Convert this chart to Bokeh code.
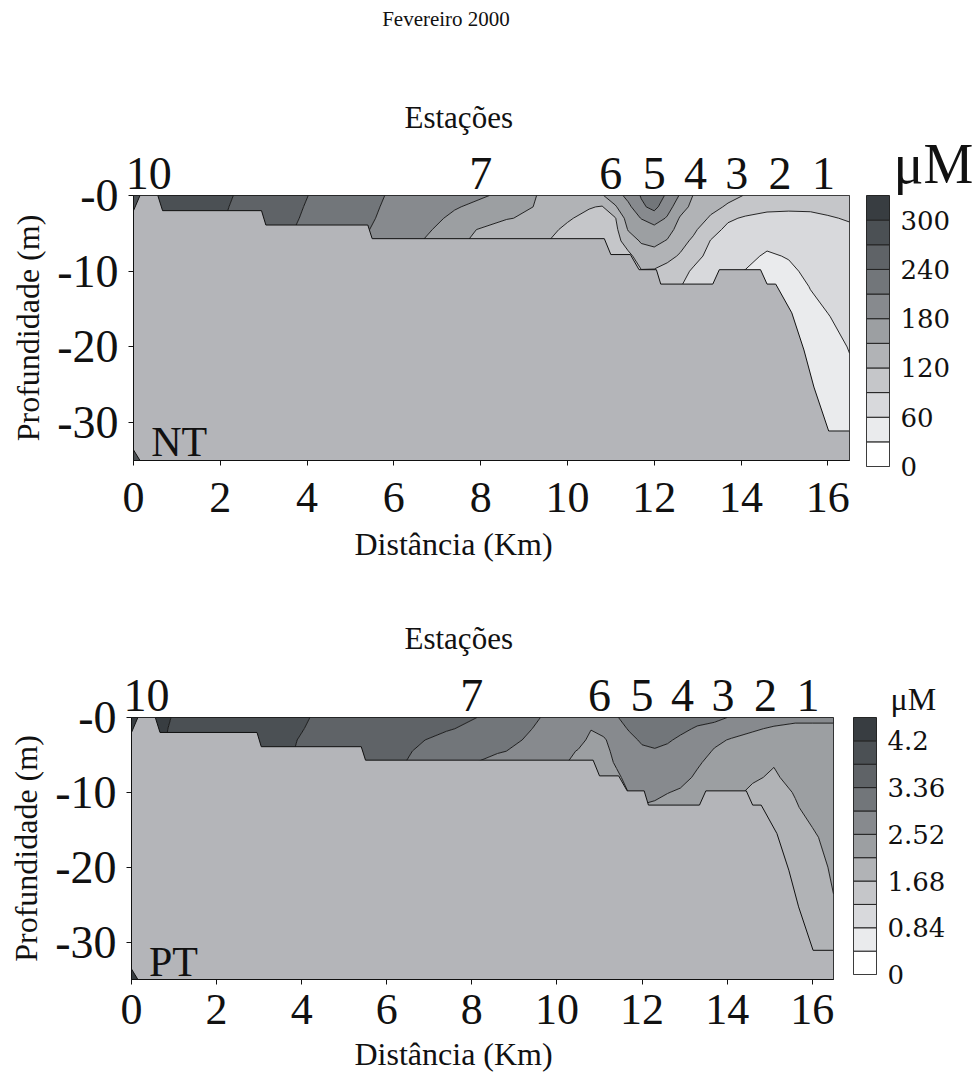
import numpy as np
from bokeh.plotting import figure
from bokeh.layouts import column, row
from bokeh.models import Range1d, LinearAxis, FixedTicker, Label, Title, CustomJSTickFormatter, Div
from bokeh.embed import file_html
from bokeh.resources import INLINE

# ---------------- texts ----------------
page_title = "Fevereiro 2000"
section_title = "Estações"
x_label = "Distância (Km)"
y_label = "Profundidade (m)"
unit_label = "μM"
nt_tag = "NT"
pt_tag = "PT"

# ---------------- axes / stations ----------------
station_km = [0.35, 8.0, 11.0, 12.0, 12.95, 13.9, 14.9, 15.9]
station_names = ["10", "7", "6", "5", "4", "3", "2", "1"]
dist_ticks = [0, 2, 4, 6, 8, 10, 12, 14, 16]
depth_ticks = [0, -10, -20, -30]
depth_tick_labels = ["-0", "-10", "-20", "-30"]

# ---------------- bottom (blanked) profile ----------------
bottom_km = [0.0, 0.15, 0.56, 0.67, 2.95, 3.05, 5.4, 5.5, 10.85, 11.0, 11.45, 11.65, 12.05, 12.15,
             13.35, 13.5, 14.45, 14.6, 14.8, 15.17, 15.45, 15.68, 16.02, 16.5, 16.5, 0.15, 0.0]
bottom_m = [-2.0, 0.0, 0.0, -2.0, -2.0, -3.9, -3.9, -5.7, -5.7, -7.8, -7.8, -9.8, -9.8, -11.7,
            -11.7, -9.8, -9.8, -11.7, -11.7, -15.5, -20.4, -25.3, -31.1, -31.1, -35.0, -35.0, -33.6]

# ---------------- sampling grid ----------------
grid_km = [0.0, 1.3, 3.1, 4.9, 6.2, 7.4, 8.6, 9.4, 10.0, 10.5, 10.8, 11.1, 11.4, 11.7, 12.0, 12.3,
           12.6, 12.9, 13.3, 13.7, 14.1, 14.6, 15.1, 15.6, 16.0, 16.5]
grid_m = [0, -1.5, -3, -4.5, -6, -8, -10, -12, -16, -20, -25, -35]

# NT (µM), one row per depth
nt_0m = [290, 285, 258, 223, 204, 190, 175, 146, 140, 135, 148, 165, 190, 212, 228, 205, 177, 149, 135, 126, 119, 110, 108, 110, 106, 104]
nt_1_5m = [290, 285, 255, 222, 202, 182, 166, 145, 132, 122, 118, 147, 172, 205, 218, 192, 163, 142, 127, 117, 103, 95, 93, 93, 96, 97]
nt_3m = [290, 285, 252, 222, 199, 175, 153, 138, 123, 112, 108, 118, 164, 181, 195, 177, 147, 134, 117, 94, 87, 84, 85, 86, 88, 92]
nt_4_5m = [290, 285, 250, 220, 196, 168, 125, 130, 115, 105, 104, 112, 152, 165, 170, 162, 138, 126, 100, 84, 80, 76, 78, 81, 84, 86]
nt_6m = [290, 285, 250, 218, 194, 157, 129, 124, 110, 100, 100, 108, 135, 153, 158, 148, 130, 115, 89, 78, 74, 68, 72, 77, 80, 83]
nt_8m = [290, 285, 250, 218, 194, 157, 129, 124, 110, 100, 100, 104, 112, 135, 138, 128, 117, 100, 82, 72, 68, 56, 62, 72, 76, 80]
nt_10m = [290, 285, 250, 218, 194, 157, 129, 124, 110, 100, 100, 100, 105, 118, 117, 110, 100, 86, 76, 66, 59, 50, 54, 67, 72, 77]
nt_12m = [290, 285, 250, 218, 194, 157, 129, 124, 110, 100, 100, 100, 105, 110, 105, 100, 91, 80, 72, 63, 55, 46, 48, 61, 68, 74]
nt_16m = [290, 285, 250, 218, 194, 157, 129, 124, 110, 100, 100, 100, 105, 110, 105, 100, 88, 80, 72, 63, 55, 40, 40, 52, 59, 68]
nt_20m = [290, 285, 250, 218, 194, 157, 129, 124, 110, 100, 100, 100, 105, 110, 105, 100, 88, 80, 72, 63, 55, 38, 36, 46, 52, 61]
nt_25m = [290, 285, 250, 218, 194, 157, 129, 124, 110, 100, 100, 100, 105, 110, 105, 100, 88, 80, 72, 63, 55, 36, 35, 42, 47, 55]
nt_35m = [290, 285, 250, 218, 194, 157, 129, 124, 110, 100, 100, 100, 105, 110, 105, 100, 88, 80, 72, 63, 55, 35, 35, 40, 44, 50]

# PT (µM), one row per depth
pt_0m = [4.45, 4.1, 3.95, 3.67, 3.55, 3.45, 3.3, 3.0, 2.83, 2.8, 2.82, 2.88, 2.92, 3.05, 3.15, 3.16, 3.12, 3.06, 3.0, 2.97, 2.93, 2.8, 2.66, 2.6, 2.58, 2.56]
pt_1_5m = [4.45, 4.07, 3.94, 3.64, 3.53, 3.39, 3.21, 2.945, 2.78, 2.72, 2.53, 2.65, 2.85, 2.96, 3.05, 3.08, 3.04, 2.98, 2.92, 2.9, 2.75, 2.56, 2.48, 2.44, 2.46, 2.48]
pt_3m = [4.45, 4.05, 3.93, 3.59, 3.5, 3.26, 3.1, 2.88, 2.72, 2.62, 2.45, 2.47, 2.72, 2.88, 2.97, 3.0, 2.96, 2.91, 2.84, 2.62, 2.48, 2.42, 2.38, 2.38, 2.4, 2.44]
pt_4_5m = [4.45, 4.05, 3.92, 3.57, 3.46, 3.16, 2.99, 2.8, 2.66, 2.5, 2.4, 2.42, 2.62, 2.8, 2.9, 2.92, 2.9, 2.84, 2.72, 2.48, 2.4, 2.34, 2.3, 2.33, 2.36, 2.4]
pt_6m = [4.45, 4.05, 3.9, 3.55, 3.4, 3.2, 2.75, 2.7, 2.6, 2.44, 2.38, 2.4, 2.56, 2.72, 2.82, 2.86, 2.82, 2.76, 2.56, 2.42, 2.34, 2.26, 2.12, 2.27, 2.32, 2.37]
pt_8m = [4.45, 4.05, 3.9, 3.55, 3.4, 3.2, 2.75, 2.7, 2.6, 2.44, 2.36, 2.38, 2.46, 2.62, 2.72, 2.76, 2.7, 2.62, 2.47, 2.36, 2.26, 2.14, 2.06, 2.2, 2.28, 2.34]
pt_10m = [4.45, 4.05, 3.9, 3.55, 3.4, 3.2, 2.75, 2.7, 2.6, 2.44, 2.36, 2.38, 2.4, 2.53, 2.6, 2.62, 2.53, 2.48, 2.38, 2.3, 2.18, 2.04, 1.98, 2.12, 2.24, 2.31]
pt_12m = [4.45, 4.05, 3.9, 3.55, 3.4, 3.2, 2.75, 2.7, 2.6, 2.44, 2.36, 2.38, 2.4, 2.45, 2.5, 2.44, 2.4, 2.38, 2.3, 2.25, 2.12, 2.0, 1.92, 2.07, 2.2, 2.28]
pt_16m = [4.45, 4.05, 3.9, 3.55, 3.4, 3.2, 2.75, 2.7, 2.6, 2.44, 2.36, 2.38, 2.4, 2.45, 2.5, 2.44, 2.4, 2.38, 2.3, 2.25, 2.12, 1.95, 1.85, 1.96, 2.05, 2.22]
pt_20m = [4.45, 4.05, 3.9, 3.55, 3.4, 3.2, 2.75, 2.7, 2.6, 2.44, 2.36, 2.38, 2.4, 2.45, 2.5, 2.44, 2.4, 2.38, 2.3, 2.25, 2.12, 1.95, 1.8, 1.9, 1.96, 2.15]
pt_25m = [4.45, 4.05, 3.9, 3.55, 3.4, 3.2, 2.75, 2.7, 2.6, 2.44, 2.36, 2.38, 2.4, 2.45, 2.5, 2.44, 2.4, 2.38, 2.3, 2.25, 2.12, 1.95, 1.8, 1.85, 1.9, 2.08]
pt_35m = [4.45, 4.05, 3.9, 3.55, 3.4, 3.2, 2.75, 2.7, 2.6, 2.44, 2.36, 2.38, 2.4, 2.45, 2.5, 2.44, 2.4, 2.38, 2.3, 2.25, 2.12, 1.95, 1.8, 1.8, 1.85, 2.0]

# ---------------- contour levels and colour scale ----------------
nt_levels = [0, 30, 60, 90, 120, 150, 180, 210, 240, 270, 300, 330]
nt_bar_ticks = [0, 60, 120, 180, 240, 300]
nt_bar_labels = ["0", "60", "120", "180", "240", "300"]
pt_levels = [0, 0.42, 0.84, 1.26, 1.68, 2.1, 2.52, 2.94, 3.36, 3.78, 4.2, 4.62]
pt_bar_ticks = [0, 0.84, 1.68, 2.52, 3.36, 4.2]
pt_bar_labels = ["0", "0.84", "1.68", "2.52", "3.36", "4.2"]

bin_colors = ["#ffffff", "#eaebed", "#d8d9dc", "#c5c6c9", "#b1b3b6", "#9c9fa2",
              "#878a8e", "#72767a", "#5f6367", "#4b5054", "#383d41"]
mask_color = "#b4b5b9"
ink = "#111111"
FONT = "Liberation Serif"


def lookup_formatter(vals, labels):
    return CustomJSTickFormatter(args=dict(vals=list(vals), labels=list(labels)), code="""
        let best = 0;
        for (let i = 1; i < vals.length; i++) {
            if (Math.abs(vals[i] - tick) < Math.abs(vals[best] - tick)) { best = i; }
        }
        return labels[best];
    """)


def section(rows, levels, tag, frame_w, frame_h, left, top, bottom,
            est_offset, est_standoff, tick_standoff, xl_offset, xl_standoff):
    z = np.array(rows, dtype=float)[::-1]
    y = np.array(grid_m, dtype=float)[::-1]
    x = np.array(grid_km, dtype=float)
    p = figure(frame_width=frame_w, frame_height=frame_h,
               x_range=Range1d(0, 16.5), y_range=Range1d(-35, 0),
               output_backend="svg", toolbar_location=None, title_location=None,
               min_border_left=left, min_border_right=10,
               min_border_top=top, min_border_bottom=bottom)
    p.background_fill_color = "white"
    p.border_fill_color = "white"
    p.xgrid.visible = False
    p.ygrid.visible = False
    p.outline_line_color = ink
    p.outline_line_width = 1

    p.contour(x=x, y=y, z=z, levels=levels, fill_color=bin_colors,
              line_color=ink, line_width=0.9)
    p.patch(x=bottom_km, y=bottom_m, fill_color=mask_color, line_color=ink, line_width=1)

    p.add_layout(Label(x=0.41, y=-32.6, text=tag, text_font=FONT, text_font_size="42px",
                       text_color=ink, text_baseline="alphabetic"))

    xa = p.below[0]
    xa.ticker = FixedTicker(ticks=dist_ticks)
    xa.major_label_text_font = FONT
    xa.major_label_text_font_size = "44px"
    xa.major_label_text_color = ink
    xa.major_label_standoff = tick_standoff
    xa.major_tick_out = 5
    xa.major_tick_in = 0
    xa.minor_tick_out = 0
    xa.minor_tick_in = 0
    xa.axis_line_color = ink
    xa.major_tick_line_color = ink

    ya = p.left[0]
    ya.ticker = FixedTicker(ticks=depth_ticks)
    ya.formatter = lookup_formatter(depth_ticks, depth_tick_labels)
    ya.major_label_text_font = FONT
    ya.major_label_text_font_size = "46px"
    ya.major_label_text_color = ink
    ya.major_label_standoff = 10
    ya.major_tick_out = 5
    ya.major_tick_in = 0
    ya.minor_tick_out = 0
    ya.minor_tick_in = 0
    ya.axis_line_color = ink
    ya.major_tick_line_color = ink
    ya.axis_label = y_label
    ya.axis_label_text_font = FONT
    ya.axis_label_text_font_size = "32px"
    ya.axis_label_text_font_style = "normal"
    ya.axis_label_text_color = ink
    ya.axis_label_standoff = 8

    top_axis = LinearAxis(ticker=FixedTicker(ticks=station_km),
                          formatter=lookup_formatter(station_km, station_names))
    top_axis.major_label_text_font = FONT
    top_axis.major_label_text_font_size = "46px"
    top_axis.major_label_text_color = ink
    top_axis.major_label_standoff = 7
    top_axis.major_tick_out = 0
    top_axis.major_tick_in = 0
    top_axis.minor_tick_out = 0
    top_axis.minor_tick_in = 0
    top_axis.axis_line_color = None
    p.add_layout(top_axis, "above")

    p.add_layout(Title(text=section_title, align="left", offset=est_offset, standoff=est_standoff,
                       text_font=FONT, text_font_size="31px", text_font_style="normal",
                       text_color=ink), "above")

    p.add_layout(Title(text=x_label, align="left", offset=xl_offset, standoff=xl_standoff,
                       text_font=FONT, text_font_size="32px", text_font_style="normal",
                       text_color=ink), "below")
    return p


def colour_bar(levels, tick_vals, tick_labels, frame_h, left, right, top, bottom,
               unit_size, unit_offset):
    cb = figure(frame_width=23, frame_height=frame_h,
                x_range=Range1d(0, 1), y_range=Range1d(levels[0], levels[-1]),
                x_axis_location=None, y_axis_location="right", title=unit_label,
                output_backend="svg", toolbar_location=None,
                min_border_left=left, min_border_right=right,
                min_border_top=top, min_border_bottom=bottom)
    cb.background_fill_color = "white"
    cb.border_fill_color = "white"
    cb.xgrid.visible = False
    cb.ygrid.visible = False
    cb.outline_line_color = "#222222"
    cb.quad(left=0, right=1, bottom=levels[:-1], top=levels[1:],
            fill_color=bin_colors, line_color="#222222", line_width=1)
    ax = cb.right[0]
    ax.ticker = FixedTicker(ticks=tick_vals)
    ax.formatter = lookup_formatter(tick_vals, tick_labels)
    ax.major_tick_out = 0
    ax.major_tick_in = 0
    ax.minor_tick_out = 0
    ax.minor_tick_in = 0
    ax.axis_line_color = None
    ax.major_label_text_font = "DejaVu Serif"
    ax.major_label_text_font_size = "26px"
    ax.major_label_text_color = ink
    ax.major_label_standoff = 11
    cb.title.text_font = FONT
    cb.title.text_font_size = unit_size
    cb.title.text_font_style = "normal"
    cb.title.text_color = ink
    cb.title.align = "left"
    cb.title.offset = unit_offset
    cb.title.standoff = 2
    return cb


nt_rows = [nt_0m, nt_1_5m, nt_3m, nt_4_5m, nt_6m, nt_8m, nt_10m, nt_12m, nt_16m, nt_20m, nt_25m, nt_35m]
pt_rows = [pt_0m, pt_1_5m, pt_3m, pt_4_5m, pt_6m, pt_8m, pt_10m, pt_12m, pt_16m, pt_20m, pt_25m, pt_35m]

head = Div(text=page_title, width=892, height=31, margin=(7, 0, 0, 0),
           styles={"text-align": "center", "font-family": "'Liberation Serif', serif",
                   "font-size": "21px", "color": ink, "line-height": "24px"})

p_nt = section(nt_rows, nt_levels, nt_tag, 716, 265, 133, 155, 110,
               est_offset=271, est_standoff=39, tick_standoff=17,
               xl_offset=221, xl_standoff=19)
c_nt = colour_bar(nt_levels, nt_bar_ticks, nt_bar_labels, 271, 7, 84, 157, 102, "56px", 27)

p_pt = section(pt_rows, pt_levels, pt_tag, 702, 262, 131, 145, 99,
               est_offset=273, est_standoff=42, tick_standoff=10,
               xl_offset=223, xl_standoff=14)
c_pt = colour_bar(pt_levels, pt_bar_ticks, pt_bar_labels, 257, 10, 75, 148, 101, "32px", 37)

layout = column(head, row(p_nt, c_nt), row(p_pt, c_pt))

with open("out.html", "w") as f:
    f.write(file_html(layout, INLINE, title=page_title))
